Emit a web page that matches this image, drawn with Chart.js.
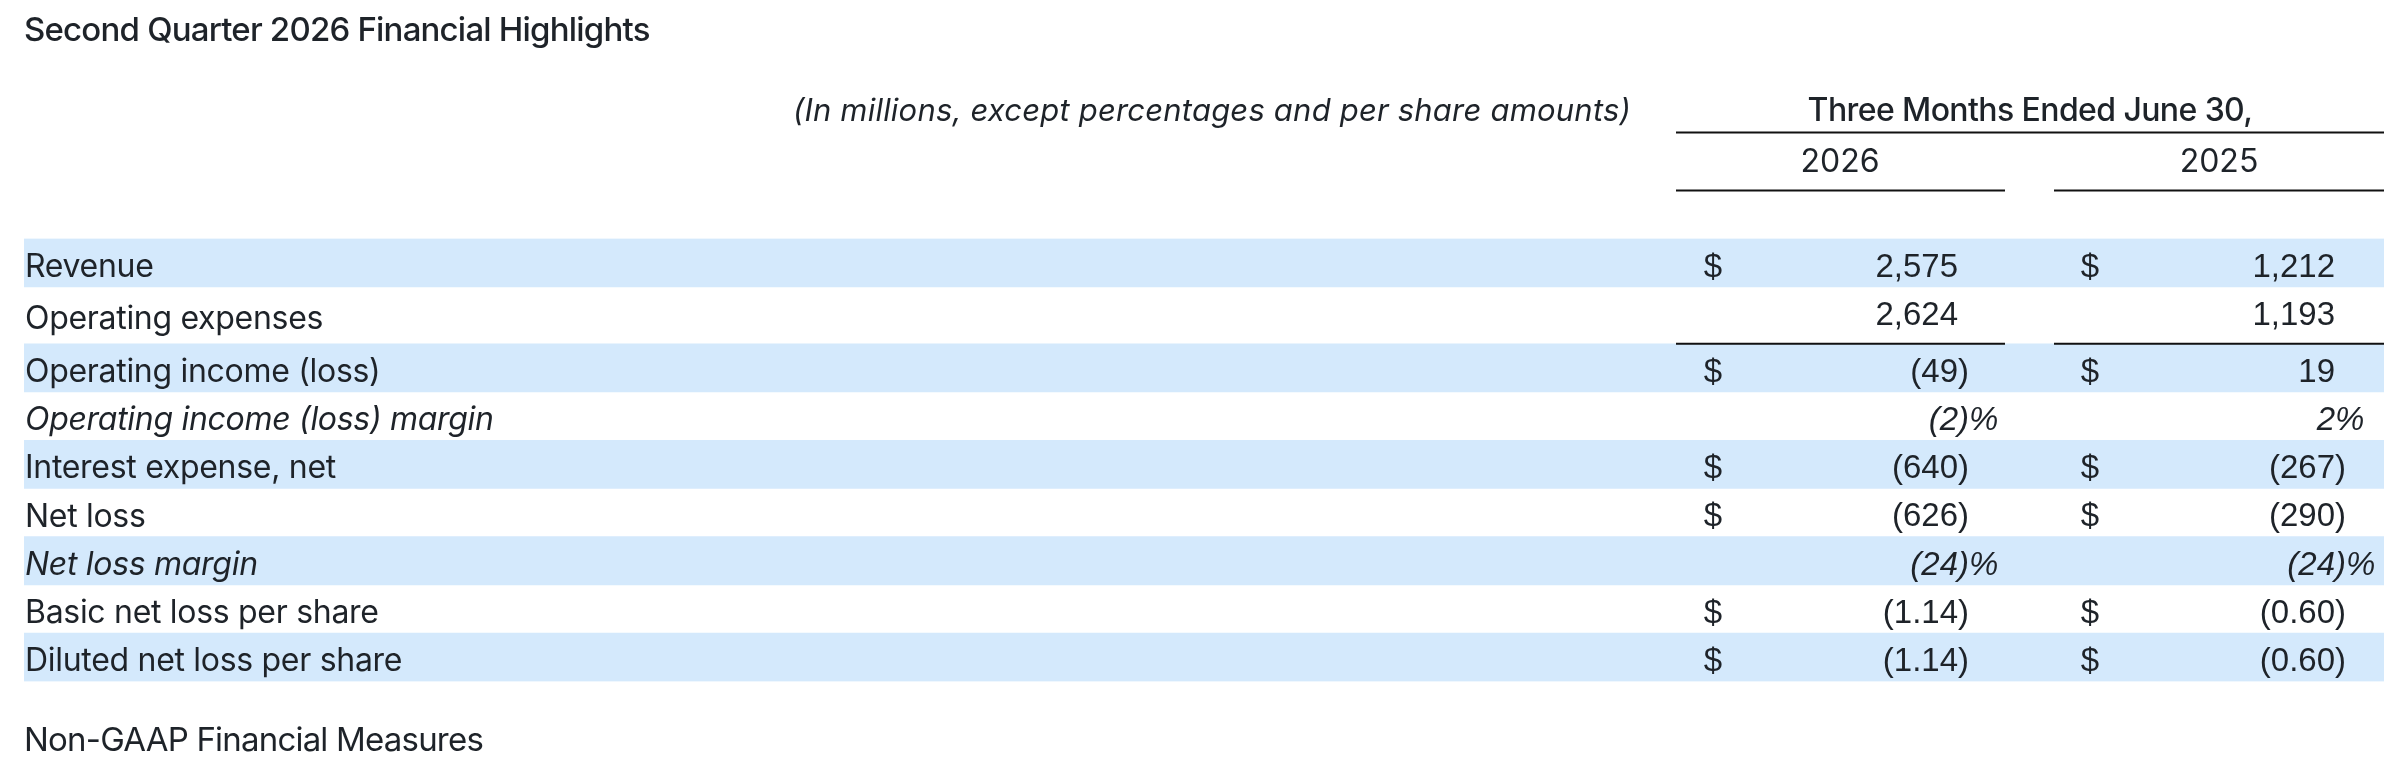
<!DOCTYPE html>
<html lang="en">
<head>
<meta charset="UTF-8">
<title>Second Quarter 2026 Financial Highlights</title>
<script src="https://cdn.jsdelivr.net/npm/chart.js@4.4.1/dist/chart.umd.min.js"></script>
<style>
  html, body { margin: 0; padding: 0; background: #fff; }
  #wrap { width: 2404px; height: 764px; }
</style>
</head>
<body>
<div id="wrap"><canvas id="highlights" width="2404" height="764"></canvas></div>
<script>
// Table contents
const titleText = "Second Quarter 2026 Financial Highlights";
const unitsNote = "(In millions, except percentages and per share amounts)";
const periodHeader = "Three Months Ended June 30,";
const footerText = "Non-GAAP Financial Measures";
const periods = ["2026", "2025"];
const rowLabels = [
  "Revenue",
  "Operating expenses",
  "Operating income (loss)",
  "Operating income (loss) margin",
  "Interest expense, net",
  "Net loss",
  "Net loss margin",
  "Basic net loss per share",
  "Diluted net loss per share",
];
const values2026 = [2575, 2624, -49, -2, -640, -626, -24, -1.14, -1.14];
const values2025 = [1212, 1193, 19, 2, -267, -290, -24, -0.6, -0.6];
// usd = "$" + whole millions, num = whole millions, pct = percent, eps = per share
const rowFormats = ["usd", "num", "usd", "pct", "usd", "usd", "pct", "eps", "eps"];

// Layout / style
const ROW_UNITS = [1, 1.18, 1, 1, 1, 1, 1, 1, 1];
const BAND = "#d4e9fc";
const INK = "#1e2329";
const LABEL_FONT = "Inter, 'Noto Sans', sans-serif";
const NUM_FONT = "'Liberation Sans', Arial, sans-serif";
// column positions, measured from the right edge of the chart area
const COLS = [
  { start: -708, end: -379, dollar: -671, digits: -426, header: -544 },
  { start: -330, end: 0, dollar: -294, digits: -49, header: -165 },
];

document.addEventListener("DOMContentLoaded", () => {
  const canvas = document.getElementById("highlights");
  const columnValues = [values2026, values2025];

  const rowTops = [];
  let total = 0;
  ROW_UNITS.forEach((u) => {
    rowTops.push(total);
    total += u;
  });

  function splitValue(value, fmt) {
    const neg = value < 0;
    const abs = Math.abs(value);
    const digits = fmt === "eps" ? abs.toFixed(2) : abs.toLocaleString("en-US");
    return {
      left: (neg ? "(" : "") + digits,
      right: (neg ? ")" : "") + (fmt === "pct" ? "%" : ""),
    };
  }

  function hLine(ctx, x0, x1, y) {
    ctx.beginPath();
    ctx.moveTo(x0, y);
    ctx.lineTo(x1, y);
    ctx.stroke();
  }

  // tighter tracking for the title / footer drawn by Chart.js itself
  const trackingPlugin = {
    id: "tracking",
    beforeDraw(chart) {
      chart.ctx.letterSpacing = "-0.8px";
    },
    afterDraw(chart) {
      chart.ctx.letterSpacing = "0px";
    },
  };

  const tablePlugin = {
    id: "tableText",
    afterDatasetsDraw(chart) {
      const { ctx, chartArea, scales } = chart;
      const { top, left, right } = chartArea;
      const y = scales.y;
      ctx.save();
      ctx.fillStyle = INK;
      ctx.strokeStyle = "#111111";
      ctx.lineWidth = 2;
      ctx.textBaseline = "alphabetic";

      // column headers
      ctx.font = `italic 400 31px ${LABEL_FONT}`;
      ctx.letterSpacing = "0.2px";
      ctx.textAlign = "right";
      ctx.fillText(unitsNote, right - 753, top - 118);

      ctx.font = `500 32px ${LABEL_FONT}`;
      ctx.letterSpacing = "-0.6px";
      ctx.textAlign = "center";
      ctx.fillText(periodHeader, right - 354, top - 118);
      hLine(ctx, right + COLS[0].start, right + COLS[1].end, top - 106);

      ctx.font = `400 32px ${LABEL_FONT}`;
      ctx.letterSpacing = "0px";
      COLS.forEach((col, c) => {
        ctx.fillText(periods[c], right + col.header, top - 67);
        hLine(ctx, right + col.start, right + col.end, top - 48);
        // rule under operating expenses
        hLine(ctx, right + col.start, right + col.end, y.getPixelForValue(rowTops[2]));
      });

      // rows
      rowLabels.forEach((label, i) => {
        const rowTop = y.getPixelForValue(rowTops[i]);
        const rowMid = y.getPixelForValue(rowTops[i] + ROW_UNITS[i] / 2);
        const base = rowTop + 38;
        const fmt = rowFormats[i];
        const style = fmt === "pct" ? "italic" : "normal";

        ctx.font = `${style} 400 32px ${LABEL_FONT}`;
        ctx.letterSpacing = "-0.3px";
        ctx.textAlign = "left";
        ctx.fillText(label, left + 1, Math.max(base, rowMid + 14));

        ctx.font = `${style} 400 33px ${NUM_FONT}`;
        ctx.letterSpacing = "0px";
        COLS.forEach((col, c) => {
          const parts = splitValue(columnValues[c][i], fmt);
          if (fmt === "usd" || fmt === "eps") {
            ctx.textAlign = "center";
            ctx.fillText("$", right + col.dollar, base);
          }
          ctx.textAlign = "right";
          ctx.fillText(parts.left, right + col.digits, base);
          ctx.textAlign = "left";
          ctx.fillText(parts.right, right + col.digits, base);
        });
      });
      ctx.restore();
    },
  };

  // one floating bar per row: shaded bands on every other row
  const datasets = rowLabels.map((label, i) => ({
    label: label,
    data: [[rowTops[i], rowTops[i] + ROW_UNITS[i]]],
    backgroundColor: i % 2 === 0 ? BAND : "rgba(0,0,0,0)",
    borderWidth: 0,
    barPercentage: 1,
    categoryPercentage: 1,
    grouped: false,
  }));

  new Chart(canvas, {
    type: "bar",
    data: {
      labels: ["table"],
      datasets: datasets,
    },
    options: {
      responsive: false,
      devicePixelRatio: 1,
      animation: false,
      layout: { padding: { left: 24, right: 20, top: 0, bottom: 0 } },
      scales: {
        x: { display: false },
        y: { type: "linear", display: false, reverse: true, min: 0, max: total },
      },
      plugins: {
        legend: { display: false },
        tooltip: { enabled: false },
        title: {
          display: true,
          text: titleText,
          align: "start",
          color: INK,
          font: { family: LABEL_FONT, size: 33, weight: "500" },
          padding: { top: 11.5, bottom: 187.5 },
        },
        subtitle: {
          display: true,
          text: footerText,
          position: "bottom",
          align: "start",
          color: INK,
          font: { family: LABEL_FONT, size: 33, weight: "400" },
          padding: { top: 40, bottom: 3 },
        },
      },
    },
    plugins: [trackingPlugin, tablePlugin],
  });
});
</script>
</body>
</html>
